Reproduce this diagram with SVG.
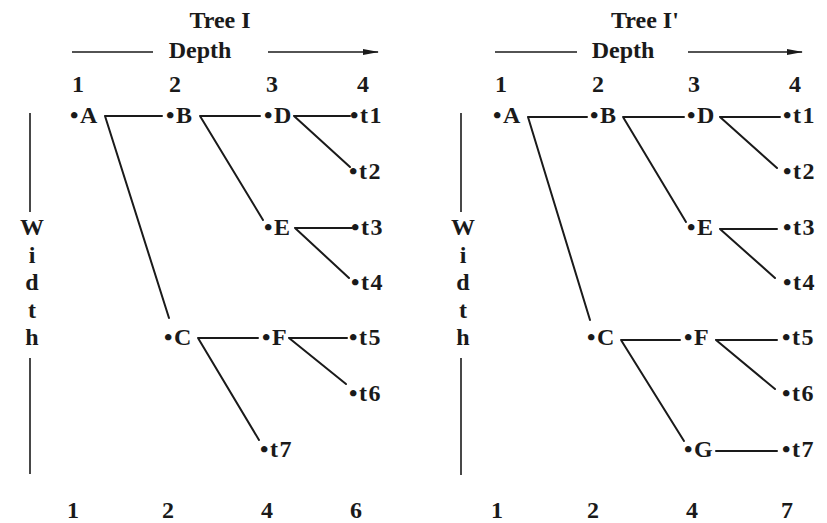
<svg xmlns="http://www.w3.org/2000/svg" width="827" height="523" viewBox="0 0 827 523">
<style>
text{font-family:"Liberation Serif","Times New Roman",serif;font-weight:bold;font-size:24px;fill:#1a1a1a}
.n{letter-spacing:1.5px}
.c{text-anchor:middle}
.e{stroke:#1a1a1a;stroke-width:2;fill:none;stroke-linecap:round}
.ax{stroke:#1a1a1a;stroke-width:1.6;fill:none}
</style>
<defs>
<marker id="ah" viewBox="0 0 16 8" refX="15" refY="4" markerWidth="16" markerHeight="8" markerUnits="userSpaceOnUse" orient="auto">
<path d="M0,1 L16,4 L0,7 Z" fill="#1a1a1a"/>
</marker>
</defs>

<g id="tree1-labels">
<text class="c" x="220" y="28">Tree I</text>
<text class="c" x="200" y="58">Depth</text>
<line class="ax" x1="72" y1="52" x2="153" y2="52"/>
<line class="ax" x1="268" y1="52" x2="378" y2="52" marker-end="url(#ah)"/>
<text class="c" x="78" y="92">1</text>
<text class="c" x="175" y="92">2</text>
<text class="c" x="272" y="92">3</text>
<text class="c" x="363" y="92">4</text>
<line class="ax" x1="30" y1="113" x2="30" y2="212"/>
<line class="ax" x1="30" y1="358" x2="30" y2="474"/>
<text class="c" x="32" y="235">W</text>
<text class="c" x="32" y="263">i</text>
<text class="c" x="32" y="290">d</text>
<text class="c" x="32" y="318">t</text>
<text class="c" x="32" y="345">h</text>
<text class="c" x="73" y="518">1</text>
<text class="c" x="168" y="518">2</text>
<text class="c" x="267" y="518">4</text>
<text class="c" x="356" y="518">6</text>
</g>

<g id="tree1-connectors">
<path class="e" d="M105,116 H162 M105,116 L169,318"/>
<path class="e" d="M200,116 H260 M200,116 L263,220"/>
<path class="e" d="M294,116 H350 M294,116 L350,167"/>
<path class="e" d="M295,228 H352 M295,228 L349,278"/>
<path class="e" d="M198,338 H258 M198,338 L259,440"/>
<path class="e" d="M289,338 H347 M289,338 L346,384"/>
</g>

<g id="t1-A"><text class="n" x="70" y="123">•A</text></g>
<g id="t1-B"><text class="n" x="166" y="123">•B</text></g>
<g id="t1-D"><text class="n" x="264" y="123">•D</text></g>
<g id="t1-t1"><text class="n" x="350" y="123">•t1</text></g>
<g id="t1-t2"><text class="n" x="349" y="179">•t2</text></g>
<g id="t1-E"><text class="n" x="264" y="235">•E</text></g>
<g id="t1-t3"><text class="n" x="351" y="235">•t3</text></g>
<g id="t1-t4"><text class="n" x="351" y="290">•t4</text></g>
<g id="t1-C"><text class="n" x="164" y="345">•C</text></g>
<g id="t1-F"><text class="n" x="262" y="345">•F</text></g>
<g id="t1-t5"><text class="n" x="349" y="345">•t5</text></g>
<g id="t1-t6"><text class="n" x="349" y="401">•t6</text></g>
<g id="t1-t7"><text class="n" x="260" y="457">•t7</text></g>

<g id="tree2-labels">
<text class="c" x="645" y="28">Tree I'</text>
<text class="c" x="623" y="58">Depth</text>
<line class="ax" x1="495" y1="52" x2="577" y2="52"/>
<line class="ax" x1="688" y1="52" x2="802" y2="52" marker-end="url(#ah)"/>
<text class="c" x="501" y="92">1</text>
<text class="c" x="598" y="92">2</text>
<text class="c" x="694" y="92">3</text>
<text class="c" x="795" y="92">4</text>
<line class="ax" x1="461" y1="113" x2="461" y2="212"/>
<line class="ax" x1="461" y1="358" x2="461" y2="475"/>
<text class="c" x="463" y="235">W</text>
<text class="c" x="463" y="263">i</text>
<text class="c" x="463" y="290">d</text>
<text class="c" x="463" y="318">t</text>
<text class="c" x="463" y="345">h</text>
<text class="c" x="497" y="518">1</text>
<text class="c" x="593" y="518">2</text>
<text class="c" x="692" y="518">4</text>
<text class="c" x="787" y="518">7</text>
</g>

<g id="tree2-connectors">
<path class="e" d="M528,117 H587 M528,117 L590,320"/>
<path class="e" d="M623,117 H684 M623,117 L686,222"/>
<path class="e" d="M720,117 H780 M720,117 L777,168"/>
<path class="e" d="M720,229 H777 M720,229 L775,278"/>
<path class="e" d="M621,340 H680 M621,340 L684,441"/>
<path class="e" d="M716,340 H777 M716,340 L775,389"/>
<path class="e" d="M716,451 H777"/>
</g>

<g id="t2-A"><text class="n" x="493" y="123">•A</text></g>
<g id="t2-B"><text class="n" x="590" y="123">•B</text></g>
<g id="t2-D"><text class="n" x="687" y="123">•D</text></g>
<g id="t2-t1"><text class="n" x="783" y="123">•t1</text></g>
<g id="t2-t2"><text class="n" x="783" y="179">•t2</text></g>
<g id="t2-E"><text class="n" x="687" y="235">•E</text></g>
<g id="t2-t3"><text class="n" x="783" y="235">•t3</text></g>
<g id="t2-t4"><text class="n" x="783" y="290">•t4</text></g>
<g id="t2-C"><text class="n" x="587" y="345">•C</text></g>
<g id="t2-F"><text class="n" x="684" y="345">•F</text></g>
<g id="t2-t5"><text class="n" x="782" y="345">•t5</text></g>
<g id="t2-t6"><text class="n" x="782" y="401">•t6</text></g>
<g id="t2-G"><text class="n" x="684" y="457">•G</text></g>
<g id="t2-t7"><text class="n" x="782" y="457">•t7</text></g>
</svg>
